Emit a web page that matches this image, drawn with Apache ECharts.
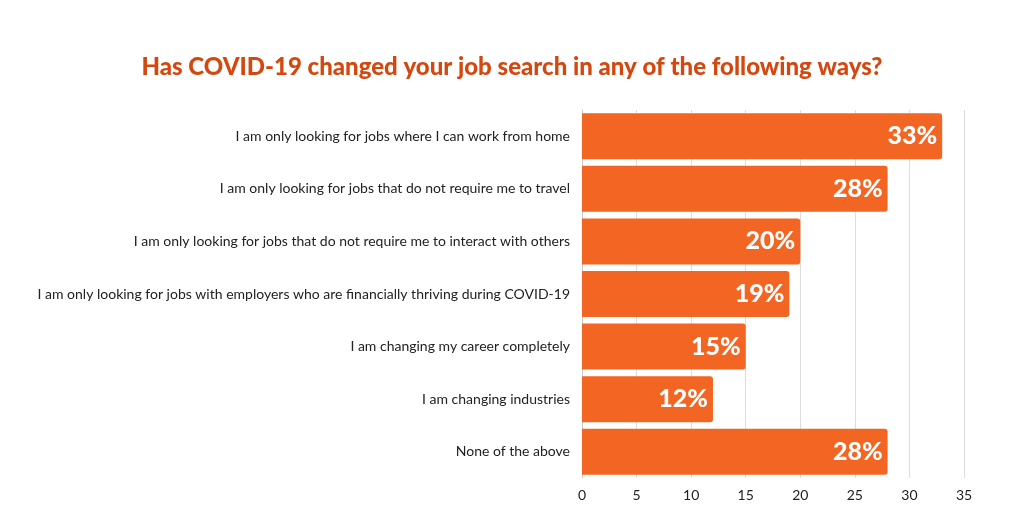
<!DOCTYPE html>
<html>
<head>
<meta charset="utf-8">
<script src="https://cdn.jsdelivr.net/npm/echarts@6/dist/echarts.min.js"></script>
<style>html,body{margin:0;padding:0;background:#fff}#chart{width:1024px;height:512px}</style>
</head>
<body>
<div id="chart"></div>
<script>
// answers, top to bottom
const categories = [
    "I am only looking for jobs where I can work from home",
    "I am only looking for jobs that do not require me to travel",
    "I am only looking for jobs that do not require me to interact with others",
    "I am only looking for jobs with employers who are financially thriving during COVID-19",
    "I am changing my career completely",
    "I am changing industries",
    "None of the above"
];
const percents = [33, 28, 20, 19, 15, 12, 28];

let chart = echarts.init(document.getElementById("chart"), null, {renderer: "canvas"});
chart.setOption({
    animation: false,
    title: {
        text: "Has COVID-19 changed your job search in any of the following ways?",
        left: "center",
        top: 50,
        textStyle: {color: "#d4470f", fontSize: 24, fontWeight: 900, fontFamily: "Lato"}
    },
    grid: {left: 582, right: 60, top: 110, bottom: 34},
    xAxis: {
        type: "value",
        min: 0, max: 35, interval: 5,
        axisLine: {show: false},
        axisTick: {show: false},
        splitLine: {lineStyle: {color: "#dddddd"}},
        axisLabel: {color: "#222", fontSize: 14, fontFamily: "Lato", margin: 10}
    },
    yAxis: {
        type: "category",
        inverse: true,
        data: categories,
        axisLine: {show: true, lineStyle: {color: "#cccccc"}},
        axisTick: {show: false},
        axisLabel: {color: "#222", fontSize: 14, fontFamily: "Lato", margin: 12}
    },
    series: [{
        type: "bar",
        data: percents,
        barWidth: 46,
        itemStyle: {color: "#f26522", borderRadius: [0, 3, 3, 0]},
        label: {
            show: true,
            position: "insideRight",
            formatter: "{c}%",
            color: "#fff",
            fontSize: 25,
            fontWeight: 900,
            fontFamily: "Lato",
            distance: 5
        }
    }]
});
</script>
</body>
</html>
